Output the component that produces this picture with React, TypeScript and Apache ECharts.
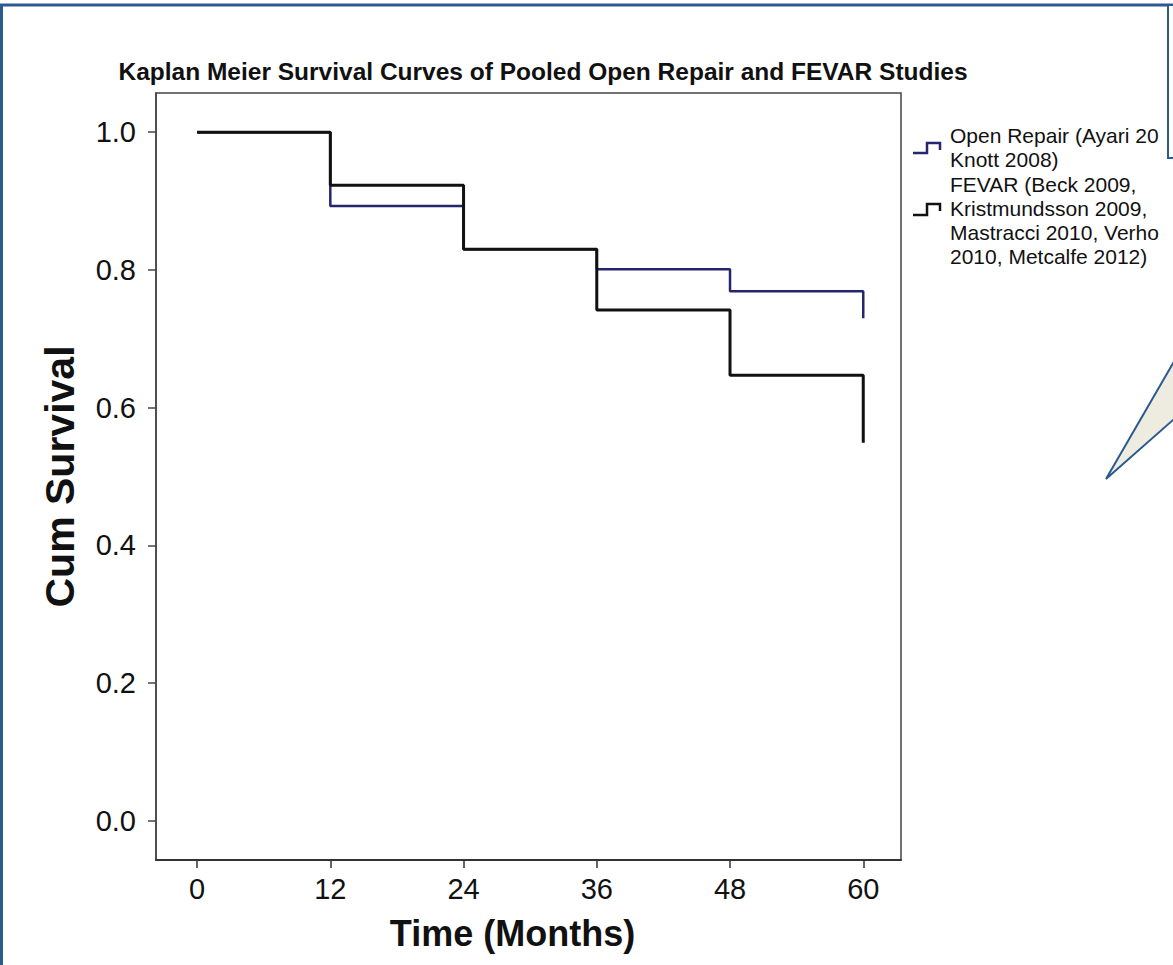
import React, { useEffect, useRef } from "react";
import * as echarts from "echarts";

// Kaplan–Meier step values at each yearly follow-up (months)
const months = [0, 12, 24, 36, 48, 60];
const openRepairSurvival = [1.0, 0.893, 0.83, 0.801, 0.769, 0.73];
const fevarSurvival = [1.0, 0.923, 0.83, 0.742, 0.647, 0.549];

const xTickValues = [0, 12, 24, 36, 48, 60];
const yTickValues = [0, 0.2, 0.4, 0.6, 0.8, 1.0];

const chartTitle = "Kaplan Meier Survival Curves of Pooled Open Repair and FEVAR Studies";
const xAxisTitle = "Time (Months)";
const yAxisTitle = "Cum Survival";
const openRepairLegend = ["Open Repair (Ayari 20", "Knott 2008)"];
const fevarLegend = [
  "FEVAR (Beck 2009,",
  "Kristmundsson 2009,",
  "Mastracci 2010, Verho",
  "2010, Metcalfe 2012)",
];

const FONT = "'Liberation Sans', Arial, Helvetica, sans-serif";
const OPEN_COLOR = "#26266e";
const FEVAR_COLOR = "#111111";
const SLIDE_BLUE = "#2b5a8f";

export default function App() {
  const ref = useRef<HTMLDivElement>(null);

  useEffect(() => {
    document.body.style.margin = "0";
    const chart = echarts.init(ref.current!, null, { renderer: "svg" });

    const openData = months.map((m, i) => [m, openRepairSurvival[i]]);
    const fevarData = months.map((m, i) => [m, fevarSurvival[i]]);

    const legendText = (lines: string[], ys: number[]) =>
      lines.map((t, i) => ({
        type: "text",
        x: 950,
        y: ys[i],
        style: {
          text: t,
          fontFamily: FONT,
          fontSize: 21,
          fill: "#111",
          align: "left",
          verticalAlign: "middle",
        },
      }));

    const option: any = {
      animation: false,
      backgroundColor: "#ffffff",
      textStyle: { fontFamily: FONT },
      grid: {
        left: 156,
        top: 93,
        right: 1173 - 901,
        bottom: 965 - 860,
        show: true,
        borderColor: "#444",
        borderWidth: 1.5,
        backgroundColor: "transparent",
      },
      xAxis: {
        type: "value",
        min: -3.7,
        max: 63.4,
        name: xAxisTitle,
        nameLocation: "middle",
        nameGap: 55,
        nameTextStyle: {
          fontFamily: FONT,
          fontSize: 36,
          fontWeight: "bold",
          color: "#111",
          padding: [0, 32, 0, 0],
        },
        axisLine: { show: true, onZero: false, lineStyle: { color: "#333", width: 2 } },
        axisTick: {
          show: true,
          length: 8,
          customValues: xTickValues,
          lineStyle: { color: "#333", width: 1.5 },
        },
        axisLabel: {
          customValues: xTickValues,
          fontSize: 29,
          color: "#111",
          margin: 14,
          fontFamily: FONT,
        },
        splitLine: { show: false },
      },
      yAxis: {
        type: "value",
        min: -0.057,
        max: 1.057,
        name: yAxisTitle,
        nameLocation: "middle",
        nameGap: 76,
        nameTextStyle: {
          fontFamily: FONT,
          fontSize: 41,
          fontWeight: "bold",
          color: "#111",
        },
        axisLine: { show: true, onZero: false, lineStyle: { color: "#444", width: 1.5 } },
        axisTick: {
          show: true,
          length: 8,
          customValues: yTickValues,
          lineStyle: { color: "#444", width: 1.5 },
        },
        axisLabel: {
          customValues: yTickValues,
          fontSize: 29,
          color: "#111",
          margin: 20,
          fontFamily: FONT,
          formatter: (v: number) => v.toFixed(1),
        },
        splitLine: { show: false },
      },
      series: [
        {
          name: "Open Repair",
          type: "line",
          step: "end",
          data: openData,
          symbol: "none",
          lineStyle: { color: OPEN_COLOR, width: 2.5 },
          itemStyle: { color: OPEN_COLOR },
          z: 2,
        },
        {
          name: "FEVAR",
          type: "line",
          step: "end",
          data: fevarData,
          symbol: "none",
          lineStyle: { color: FEVAR_COLOR, width: 3 },
          itemStyle: { color: FEVAR_COLOR },
          z: 3,
        },
      ],
      graphic: [
        // slide frame
        {
          type: "polyline",
          shape: { points: [[1.5, 970], [1.5, 5], [1180, 5]] },
          style: { stroke: SLIDE_BLUE, lineWidth: 3, fill: "none" },
          z: 50,
        },
        // chart title
        {
          type: "text",
          x: 543,
          y: 71,
          style: {
            text: chartTitle,
            fontFamily: FONT,
            fontSize: 24.5,
            fontWeight: "bold",
            fill: "#111",
            align: "center",
            verticalAlign: "middle",
          },
        },
        // legend symbols
        {
          type: "polyline",
          shape: { points: [[913, 153], [927, 153], [927, 143], [940, 143], [940, 150]] },
          style: { stroke: OPEN_COLOR, lineWidth: 2.5, fill: "none" },
        },
        {
          type: "polyline",
          shape: { points: [[913, 215], [927, 215], [927, 204], [940, 204], [940, 211]] },
          style: { stroke: FEVAR_COLOR, lineWidth: 2.5, fill: "none" },
        },
        ...legendText(openRepairLegend, [135, 159]),
        ...legendText(fevarLegend, [184, 208, 232, 256]),
        // callout box overlapping the upper right corner
        {
          type: "rect",
          shape: { x: 1168, y: 5, width: 30, height: 153 },
          style: { fill: "#ffffff", stroke: SLIDE_BLUE, lineWidth: 2 },
          z: 100,
        },
        // callout pointer
        {
          type: "polygon",
          shape: { points: [[1106, 479], [1190, 334], [1190, 405]] },
          style: { fill: "#eeebe1", stroke: SLIDE_BLUE, lineWidth: 2 },
          z: 100,
        },
      ],
    };

    chart.setOption(option);
    return () => chart.dispose();
  }, []);

  return <div ref={ref} style={{ width: 1173, height: 965 }} />;
}
